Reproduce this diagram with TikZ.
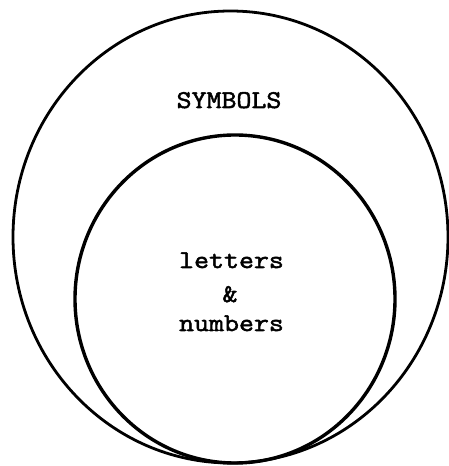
\documentclass[tikz,border=0pt]{standalone}
\usepackage{fontspec}
\newfontfamily\twfont{Latin Modern Mono}[FakeStretch=1.14, FakeBold=2]
\usetikzlibrary{shapes.geometric}
\tikzset{
  setring/.style={ellipse, draw=black, inner sep=0pt},
  lbl/.style={font=\twfont\fontsize{25.5}{31}\selectfont, inner sep=0pt, anchor=base}
}
\begin{document}
\begin{tikzpicture}[x=1pt,y=1pt]
\useasboundingbox (0,0) rectangle (449,466);
\node[setring, line width=2.8pt, minimum width=435pt, minimum height=452pt] (outer) at (230.5,229) {};
\node[setring, line width=3.4pt, minimum width=320pt, minimum height=328pt] (inner) at (235,167) {};
\node[lbl] (sym) at (229,358) {SYMBOLS};
\node[lbl] (let) at (231.5,198) {letters};
\node[lbl] (amp) at (230,164) {\&};
\node[lbl] (num) at (231.5,135) {numbers};
\end{tikzpicture}
\end{document}
